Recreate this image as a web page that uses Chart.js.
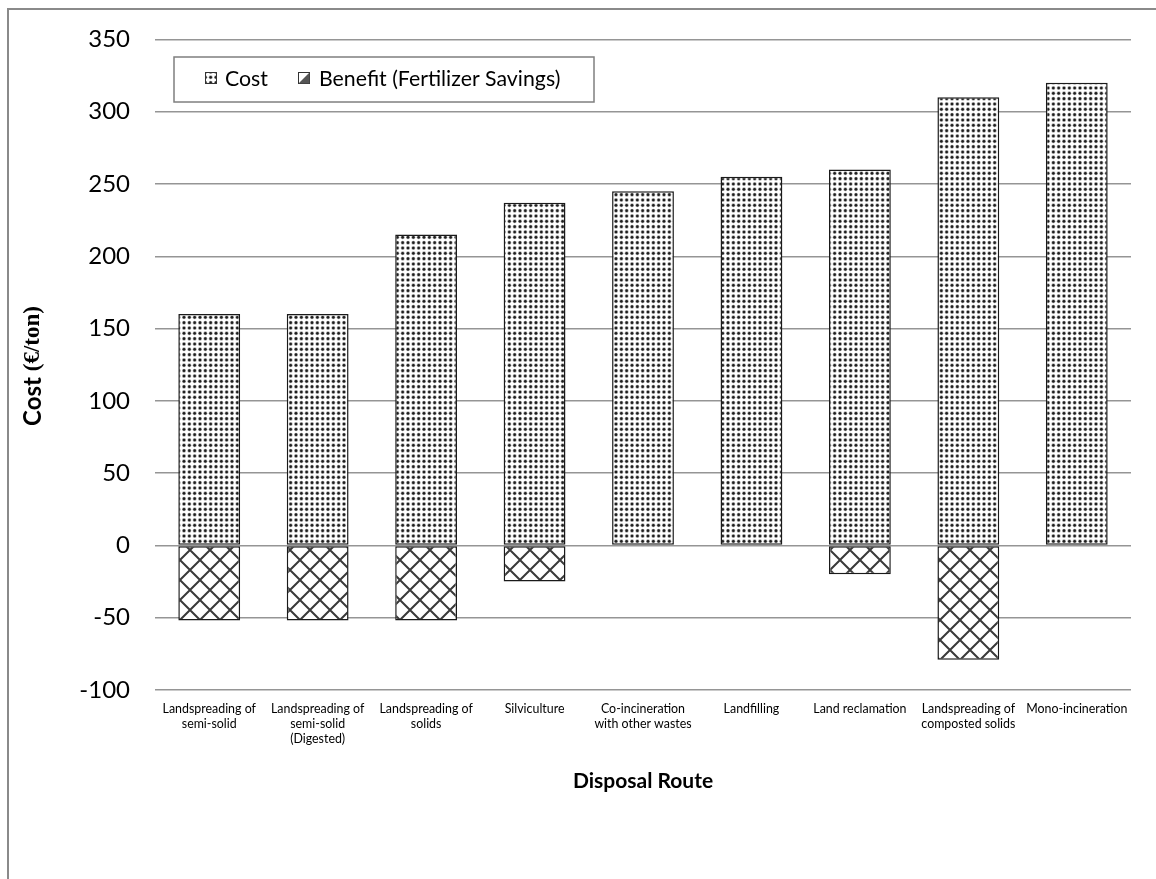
<!DOCTYPE html>
<html>
<head>
<meta charset="utf-8">
<title>Disposal route costs</title>
<script src="https://cdn.jsdelivr.net/npm/chart.js@4/dist/chart.umd.min.js"></script>
<style>
  html, body { margin: 0; padding: 0; background: #fff; }
  #wrap { position: relative; width: 1156px; height: 879px; }
  canvas { display: block; }
</style>
</head>
<body>
<div id="wrap"><canvas id="chart" width="1156" height="879"></canvas></div>
<script>
// Disposal routes (multi-line category labels)
const routes = [
  ["Landspreading of", "semi-solid"],
  ["Landspreading of", "semi-solid", "(Digested)"],
  ["Landspreading of", "solids"],
  "Silviculture",
  ["Co-incineration", "with other wastes"],
  "Landfilling",
  "Land reclamation",
  ["Landspreading of", "composted solids"],
  "Mono-incineration"
];
// Cost per ton (€/ton)
const costValues = [160, 160, 215, 237, 245, 255, 260, 310, 320];
// Fertilizer savings, shown as negative cost (€/ton); null = no benefit
const benefitValues = [-52, -52, -52, -25, null, null, -20, -79, null];
// Value axis range and step
const yRange = [-100, 350];
const yStep = 50;
const seriesNames = ["Cost", "Benefit (Fertilizer Savings)"];

// --- fill patterns ---
function dotPattern() {
  const t = document.createElement('canvas');
  t.width = 16; t.height = 16;
  const g = t.getContext('2d');
  g.fillStyle = '#fff';
  g.fillRect(0, 0, 16, 16);
  for (let i = 0; i < 3; i++) {
    for (let j = 0; j < 3; j++) {
      const cx = 2.67 + i * 5.33, cy = 2.67 + j * 5.33;
      g.fillStyle = '#a8a8a8';
      g.beginPath(); g.arc(cx, cy, 2.0, 0, Math.PI * 2); g.fill();
      g.fillStyle = '#1e1e1e';
      g.beginPath(); g.arc(cx, cy, 1.3, 0, Math.PI * 2); g.fill();
    }
  }
  return g.createPattern(t, 'repeat');
}
function crossPattern() {
  const s = 20;
  const t = document.createElement('canvas');
  t.width = s; t.height = s;
  const g = t.getContext('2d');
  g.fillStyle = '#fff';
  g.fillRect(0, 0, s, s);
  g.strokeStyle = '#3a3a3a';
  g.lineWidth = 2;
  g.beginPath();
  g.moveTo(-2, -2); g.lineTo(s + 2, s + 2);
  g.moveTo(s + 2, -2); g.lineTo(-2, s + 2);
  g.stroke();
  return g.createPattern(t, 'repeat');
}
const costFill = dotPattern();
const benefitFill = crossPattern();

const FONT = 'Lato, "Open Sans", sans-serif';

// Outer frame lines, top and left
const framePlugin = {
  id: 'frame',
  beforeDraw(chart) {
    const ctx = chart.ctx;
    ctx.save();
    ctx.fillStyle = '#fff';
    ctx.fillRect(0, 0, chart.width, chart.height);
    ctx.strokeStyle = '#8a8a8a';
    ctx.lineWidth = 2;
    ctx.beginPath();
    ctx.moveTo(chart.width, 9);
    ctx.lineTo(8, 9);
    ctx.lineTo(8, chart.height);
    ctx.stroke();
    ctx.restore();
  }
};

// Axis titles: y title mixes a sans word with a serif unit
const titlesPlugin = {
  id: 'titles',
  afterDraw(chart) {
    const ctx = chart.ctx;
    const area = chart.chartArea;
    ctx.save();
    ctx.fillStyle = '#000';
    ctx.textBaseline = 'middle';
    ctx.textAlign = 'center';
    ctx.font = 'bold 21px ' + FONT;
    ctx.fillText('Disposal Route', (area.left + area.right) / 2, 781);

    const partA = 'Cost ';
    const partB = '(€/ton)';
    const fA = 'bold 24px ' + FONT;
    const fB = 'bold 23px "Liberation Serif", "DejaVu Serif", serif';
    ctx.font = fA; const wA = ctx.measureText(partA).width;
    ctx.font = fB; const wB = ctx.measureText(partB).width;
    ctx.translate(33, 366);
    ctx.rotate(-Math.PI / 2);
    ctx.textAlign = 'left';
    let x = -(wA + wB) / 2;
    ctx.font = fA; ctx.fillText(partA, x, 0);
    ctx.font = fB; ctx.fillText(partB, x + wA, 0);
    ctx.restore();
  }
};

// Boxed legend inside the plot area
const legendBoxPlugin = {
  id: 'legendBox',
  afterDraw(chart) {
    const ctx = chart.ctx;
    ctx.save();
    ctx.fillStyle = '#fff';
    ctx.fillRect(174, 57, 420, 45);
    ctx.strokeStyle = '#7f7f7f';
    ctx.lineWidth = 1.5;
    ctx.strokeRect(174, 57, 420, 45);

    // Cost swatch
    ctx.fillStyle = costFill;
    ctx.fillRect(205, 72, 11, 11);
    ctx.strokeStyle = '#333';
    ctx.lineWidth = 1;
    ctx.strokeRect(205.5, 72.5, 11, 11);
    // Benefit swatch
    ctx.fillStyle = '#fff';
    ctx.fillRect(298, 72, 11, 11);
    ctx.strokeRect(298.5, 72.5, 11, 11);
    ctx.beginPath();
    ctx.moveTo(298.5, 83.5);
    ctx.lineTo(309.5, 72.5);
    ctx.lineTo(309.5, 83.5);
    ctx.closePath();
    ctx.fillStyle = '#555';
    ctx.fill();

    ctx.fillStyle = '#000';
    ctx.font = '21.3px ' + FONT;
    ctx.textBaseline = 'middle';
    ctx.textAlign = 'left';
    const ds = chart.data.datasets;
    ctx.fillText(ds[0].label, 225, 79);
    ctx.fillText(ds[1].label, 319, 79);
    ctx.restore();
  }
};

new Chart(document.getElementById('chart'), {
  type: 'bar',
  data: {
    labels: routes,
    datasets: [
      {
        label: seriesNames[0],
        data: costValues,
        backgroundColor: costFill,
        borderColor: '#1a1a1a',
        borderWidth: 1.5,
        borderSkipped: false
      },
      {
        label: seriesNames[1],
        data: benefitValues,
        backgroundColor: benefitFill,
        borderColor: '#1a1a1a',
        borderWidth: 1.5,
        borderSkipped: false
      }
    ]
  },
  options: {
    responsive: false,
    animation: false,
    devicePixelRatio: 1,
    barPercentage: 0.57,
    categoryPercentage: 1,
    layout: { padding: { top: 38, right: 25, left: 0, bottom: 0 } },
    plugins: {
      legend: { display: false },
      tooltip: { enabled: false },
      title: { display: false }
    },
    scales: {
      x: {
        stacked: true,
        grid: { display: false, drawTicks: false },
        border: { display: false },
        ticks: {
          color: '#000',
          font: { family: FONT, size: 12.4, lineHeight: 1.2 },
          padding: 12,
          maxRotation: 0,
          minRotation: 0,
          autoSkip: false
        },
        afterFit(scale) { scale.height = 189; }
      },
      y: {
        stacked: true,
        min: yRange[0],
        max: yRange[1],
        grid: { color: '#959595', lineWidth: 1.5, drawTicks: false },
        border: { display: false },
        ticks: {
          stepSize: yStep,
          color: '#000',
          font: { family: FONT, size: 24 },
          padding: 25
        },
        afterFit(scale) { scale.width = 155; }
      }
    }
  },
  plugins: [framePlugin, titlesPlugin, legendBoxPlugin]
});
</script>
</body>
</html>
